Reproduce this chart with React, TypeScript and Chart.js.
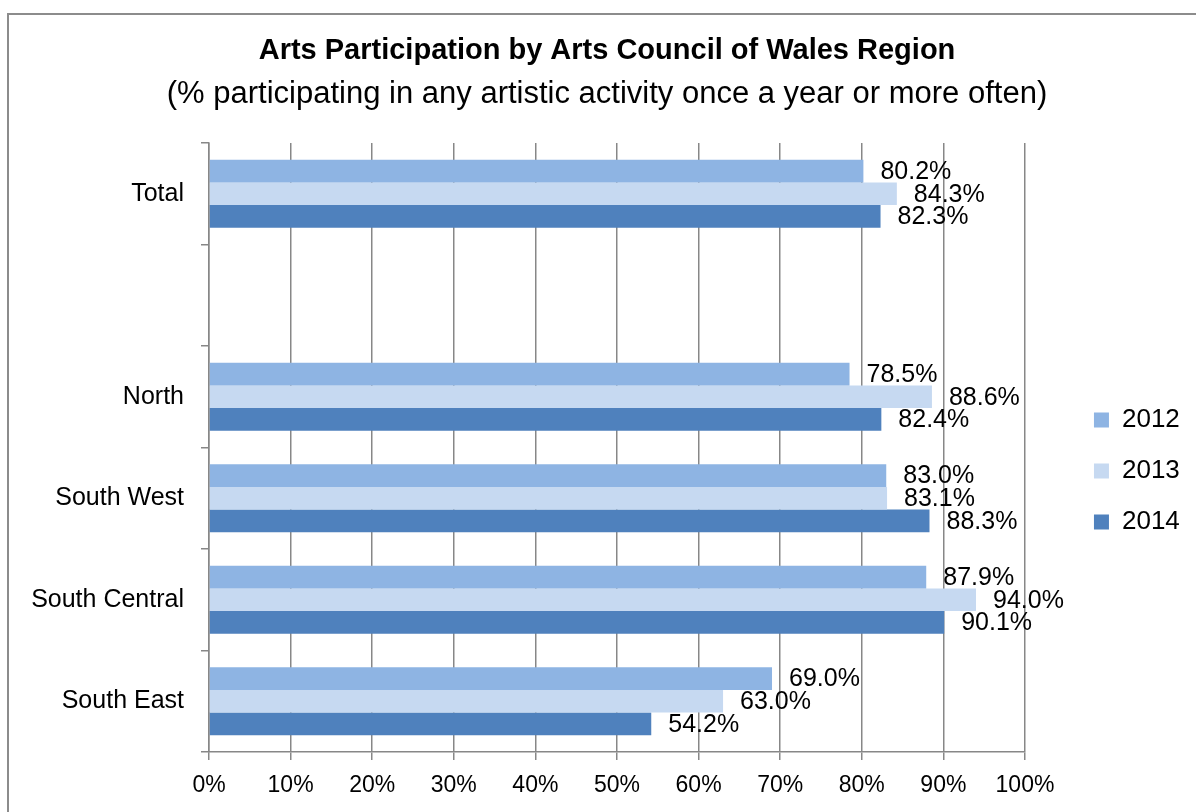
import React, { useEffect, useRef } from 'react';
import { Chart, registerables } from 'chart.js';

Chart.register(...registerables);

const FONT = "'Liberation Sans', Arial, sans-serif";

const categories = ['Total', '', 'North', 'South West', 'South Central', 'South East'];
const seriesNames = ['2012', '2013', '2014'];
const values2012 = [80.2, null, 78.5, 83.0, 87.9, 69.0];
const values2013 = [84.3, null, 88.6, 83.1, 94.0, 63.0];
const values2014 = [82.3, null, 82.4, 88.3, 90.1, 54.2];
const xTickLabels = ['0%', '10%', '20%', '30%', '40%', '50%', '60%', '70%', '80%', '90%', '100%'];
const seriesColors = ['#8EB4E3', '#C6D9F1', '#4F81BD'];

const titleText = 'Arts Participation by Arts Council of Wales Region';
const subtitleText = '(% participating in any artistic activity once a year or more often)';

const GRID = '#878787';

const valueLabels = {
  id: 'valueLabels',
  afterDatasetsDraw(chart: any) {
    const ctx = chart.ctx;
    ctx.save();
    ctx.font = `25px ${FONT}`;
    ctx.fillStyle = '#000';
    ctx.textAlign = 'left';
    ctx.textBaseline = 'middle';
    chart.data.datasets.forEach((ds: any, di: number) => {
      const meta = chart.getDatasetMeta(di);
      meta.data.forEach((el: any, i: number) => {
        const v = ds.data[i];
        if (v == null) return;
        ctx.fillText(v.toFixed(1) + '%', el.x + 17, el.y + 1);
      });
    });
    ctx.restore();
  },
};

export default function App() {
  const ref = useRef<HTMLCanvasElement>(null);

  useEffect(() => {
    const seriesData = [values2012, values2013, values2014];
    const chart = new Chart(ref.current as HTMLCanvasElement, {
      type: 'bar',
      data: {
        labels: categories,
        datasets: seriesNames.map((name, i) => ({
          label: name,
          data: seriesData[i] as any,
          backgroundColor: seriesColors[i],
          borderWidth: 0,
          categoryPercentage: 0.67,
          barPercentage: 1,
        })),
      },
      options: {
        responsive: false,
        animation: false,
        devicePixelRatio: 1,
        indexAxis: 'y',
        layout: { padding: { left: 24.2, right: 6.2, top: 0, bottom: 10 } },
        plugins: {
          tooltip: { enabled: false },
          title: {
            display: true,
            text: titleText,
            color: '#000',
            font: { family: FONT, size: 29, weight: 'bold', lineHeight: 1.2 },
            padding: { top: 33.6, bottom: 0 },
          },
          subtitle: {
            display: true,
            text: subtitleText,
            color: '#000',
            font: { family: FONT, size: 31, weight: 'normal', lineHeight: 1.2 },
            padding: { top: 7, bottom: 30.4 },
          },
          legend: {
            position: 'right',
            align: 'center',
            title: { display: true, text: ' ', padding: { top: 62.8, bottom: 62.8 }, font: { size: 12 } },
            labels: {
              boxWidth: 15,
              boxHeight: 15,
              padding: 25,
              color: '#000',
              font: { family: FONT, size: 26 },
            },
          },
        },
        scales: {
          x: {
            type: 'linear',
            min: 0,
            max: 100,
            ticks: {
              stepSize: 10,
              color: '#000',
              padding: 12,
              font: { family: FONT, size: 23 },
              callback: (_v: any, i: number) => xTickLabels[i],
            },
            grid: { color: GRID, lineWidth: 1.5, tickLength: 8, drawTicks: true },
            border: { color: GRID, width: 1.5 },
            afterFit: (s: any) => {
              s.height = 50;
            },
          },
          y: {
            type: 'category',
            offset: true,
            ticks: { color: '#000', padding: 17, font: { family: FONT, size: 25 } },
            grid: { offset: true, drawOnChartArea: false, drawTicks: true, tickLength: 8, color: GRID, lineWidth: 1.5 },
            border: { color: GRID, width: 1.5 },
            afterFit: (s: any) => {
              s.width = 184.8;
            },
          },
          gap: {
            type: 'linear',
            position: 'right',
            display: true,
            grid: { display: false },
            ticks: { display: false },
            border: { display: false },
            afterFit: (s: any) => {
              s.width = 44;
            },
          },
        },
      } as any,
      plugins: [valueLabels],
    });
    return () => chart.destroy();
  }, []);

  return (
    <div style={{ position: 'fixed', left: 0, top: 0, width: 1196, height: 812, overflow: 'hidden', background: '#fff' }}>
      <div
        style={{
          position: 'absolute',
          left: 7,
          top: 13,
          width: 1400,
          height: 1000,
          border: '2px solid #8c8c8c',
        }}
      />
      <canvas
        ref={ref}
        width={1196}
        height={812}
        style={{ position: 'absolute', left: 0, top: 0, width: 1196, height: 812 }}
      />
    </div>
  );
}
